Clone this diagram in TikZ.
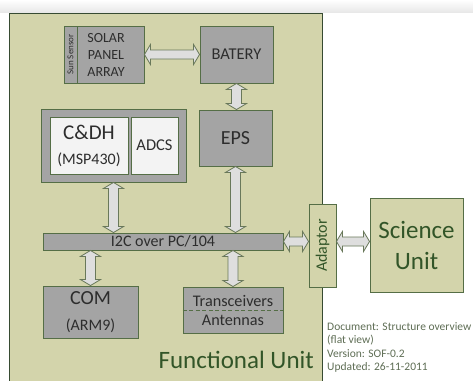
\documentclass[tikz,border=0pt]{standalone}
\usepackage{fontspec}
\setmainfont{Carlito}
\usetikzlibrary{calc}
\definecolor{fufill}{RGB}{211,212,171}
\definecolor{fuborder}{RGB}{55,75,50}
\definecolor{bordgreen}{RGB}{85,110,70}
\definecolor{boxgray}{RGB}{164,164,164}
\definecolor{lightbox}{RGB}{243,243,243}
\definecolor{txtdark}{RGB}{45,45,45}
\definecolor{greentxt}{RGB}{50,85,40}
\definecolor{doctxt}{RGB}{95,110,85}
\definecolor{arrfill}{RGB}{222,222,222}
\definecolor{arrline}{RGB}{105,120,90}
\newcommand\fsz[2]{\fontsize{#1}{#2}\selectfont}
\tikzset{
  box/.style={draw=bordgreen, fill=boxgray, line width=0.9pt, inner sep=0pt, align=center, text=txtdark},
  whitebox/.style={box, fill=lightbox},
  greenbox/.style={box, fill=fufill, text=greentxt},
  arrowsty/.style={draw=arrline, fill=arrfill, line width=0.8pt, line join=miter},
}
% horizontal double block arrow from #1 (left) to #2 (right)
\newcommand\hdbl[2]{\path[arrowsty] let \p1=(#1), \p2=(#2) in
  (\x1,\y1) -- (\x1+6pt,\y1+10pt) -- (\x1+6pt,\y1+4.5pt) -- (\x2-6pt,\y1+4.5pt) -- (\x2-6pt,\y1+10pt)
  -- (\x2,\y1) -- (\x2-6pt,\y1-10pt) -- (\x2-6pt,\y1-4.5pt) -- (\x1+6pt,\y1-4.5pt) -- (\x1+6pt,\y1-10pt) -- cycle;}
% vertical double block arrow from #1 (top) to #2 (bottom)
\newcommand\vdbl[2]{\path[arrowsty] let \p1=(#1), \p2=(#2) in
  (\x1,\y1) -- (\x1+10pt,\y1-6pt) -- (\x1+5pt,\y1-6pt) -- (\x1+5pt,\y2+6pt) -- (\x1+10pt,\y2+6pt)
  -- (\x1,\y2) -- (\x1-10pt,\y2+6pt) -- (\x1-5pt,\y2+6pt) -- (\x1-5pt,\y1-6pt) -- (\x1-10pt,\y1-6pt) -- cycle;}
\begin{document}
\begin{tikzpicture}[x=1pt,y=-1pt]
\useasboundingbox (0,0) rectangle (473,380);
\fill[white] (0,0) rectangle (473,380);
\fill[top color=white, bottom color=black!9] (0,0) rectangle (473,12);
% functional unit container
\node[draw=fuborder, fill=fufill, line width=0.9pt, minimum width=313, minimum height=372, inner sep=0pt] (fu) at (165.5,199) {};
% blocks
\node[box, minimum width=80, minimum height=57, font=\fsz{14}{17}] (solar) at (104,54.5) {\hspace*{4pt}SOLAR\\\hspace*{4pt}PANEL\\\hspace*{4pt}ARRAY};
\node[box, minimum width=13, minimum height=57] (sun) at (70.5,54.5) {\rotatebox{90}{\fsz{9}{10}Sun Sensor}};
\node[box, minimum width=73, minimum height=57, font=\fsz{16.5}{19}] (bat) at (236.5,54.5) {BATERY};
\node[box, minimum width=145, minimum height=73] (cdhout) at (113.5,145.5) {};
\node[whitebox, minimum width=78, minimum height=57, font=\fsz{21}{25}] (cdh) at (89,146) {C\&DH\\\fsz{16}{25}(MSP430)};
\node[whitebox, minimum width=47, minimum height=57, font=\fsz{16.5}{19}] (adcs) at (154.5,145.5) {ADCS};
\node[box, minimum width=73, minimum height=56, font=\fsz{20}{24}] (eps) at (235.5,138) {EPS};
\node[box, minimum width=240, minimum height=17, font=\fsz{16}{17}] (bus) at (163,241.5) {I2C over PC/104};
\node[box, minimum width=95, minimum height=52, font=\fsz{20}{26}] (com) at (90.5,312) {COM\\\fsz{16}{26}(ARM9)};
\node[box, minimum width=100, minimum height=46, font=\fsz{16.2}{19}] (trx) at (233,310) {Transceivers\\Antennas};
\draw[bordgreen, line width=0.8pt, dash pattern=on 4pt off 2.5pt] (trx.west) -- (trx.east);
\node[greenbox, minimum width=27, minimum height=83] (adapt) at (322.5,245.5) {\rotatebox{90}{\fsz{16}{18}Adaptor}};
\node[greenbox, minimum width=93, minimum height=94, font=\fsz{25}{31}] (sci) at (416.5,245) {Science\\Unit};
% labels
\node[anchor=base east, inner sep=0pt, text=greentxt, font=\fsz{25}{30}] (fulabel) at (314,368) {Functional Unit};
\node[inner sep=0pt, align=left, text=doctxt, font=\fsz{11.5}{13.5}, anchor=north west] (doc) at (327,322) {Document: Structure overview\\(flat view)\\Version: SOF-0.2\\Updated: 26-11-2011};
% connectors
\hdbl{solar.east}{bat.west}
\vdbl{bat.south}{eps.north -| bat.south}
\vdbl{cdhout.south}{bus.north -| cdhout.south}
\vdbl{eps.south}{bus.north -| eps.south}
\vdbl{bus.south -| com.north}{com.north}
\vdbl{bus.south -| trx.north}{trx.north}
\hdbl{bus.east}{adapt.west |- bus.east}
\hdbl{adapt.east |- bus.east}{sci.west |- bus.east}
\end{tikzpicture}
\end{document}
